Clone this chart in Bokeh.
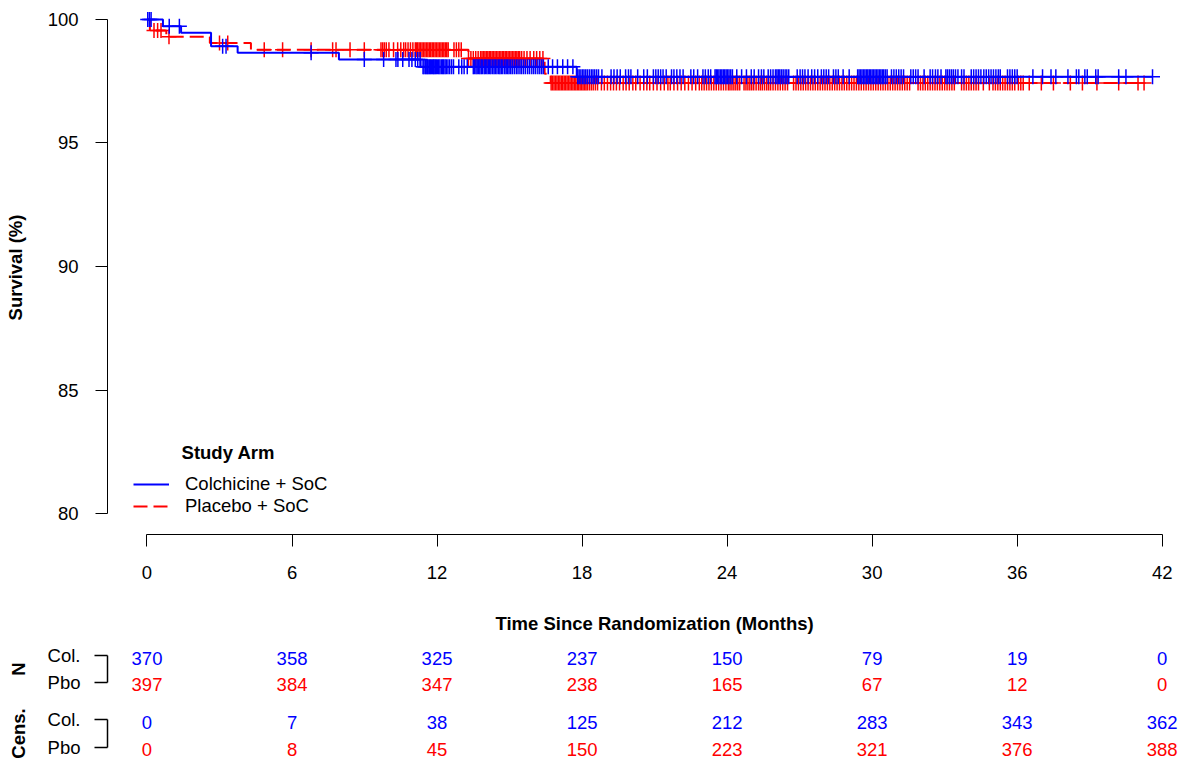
import numpy as np
from bokeh.plotting import figure
from bokeh.layouts import column
from bokeh.models import Range1d, FixedTicker, Legend, LegendItem, Label
from bokeh.embed import file_html
from bokeh.resources import INLINE
from bokeh.core.properties import value

FONT = "Liberation Sans"
FONT_V = value(FONT)
FS = "18.5px"
BLUE = "#0000FF"
RED = "#FF0000"

# ---------------- data ----------------
# Kaplan-Meier steps (time in months, survival in %)
col_time = [0, 0.66, 1.41, 2.65, 3.75, 7.94, 11.32, 17.78]
col_surv = [100, 99.73, 99.46, 98.92, 98.65, 98.38, 98.09, 97.68]
col_end = 41.60

pbo_time = [0, 0.12, 0.80, 2.60, 4.30, 13.30, 16.45, 16.70]
pbo_surv = [100, 99.55, 99.30, 99.05, 98.78, 98.42, 97.80, 97.43]
pbo_end = 41.25

# censoring times (months)
col_cens_t = [
    0.03, 0.10, 0.17, 0.92, 1.34, 3.13, 3.27,
    6.79, 8.99, 9.79, 10.30, 10.38, 10.58, 10.84, 10.96, 11.10, 11.20, 11.30,
    11.42, 11.46, 11.52, 11.55, 11.60, 11.63, 11.68, 11.72, 11.76, 11.81, 11.85, 11.88, 11.93, 11.97,
    12.02, 12.07, 12.12, 12.18, 12.23, 12.27, 12.33, 12.38, 12.45, 12.52, 12.60, 12.68,
    12.90, 13.02, 13.12, 13.25,
    13.50, 13.55, 13.61, 13.66, 13.72, 13.77, 13.83, 13.88, 13.95, 14.00, 14.06, 14.12, 14.18, 14.23,
    14.30, 14.36, 14.42, 14.48, 14.55, 14.60, 14.66, 14.72, 14.80, 14.86, 14.92, 14.98, 15.05, 15.12,
    15.20, 15.28, 15.35, 15.43, 15.50, 15.58, 15.66, 15.75, 15.83, 15.92, 16.00, 16.08, 16.17, 16.25,
    16.33, 16.40,
    16.60, 16.78, 16.98, 17.20, 17.40, 17.62,
    17.82, 17.88, 17.95, 18.02, 18.08, 18.15, 18.22, 18.30, 18.38, 18.45, 18.52, 18.60, 18.68,
    18.82, 19.20, 19.32, 19.45, 19.58, 19.80, 19.92, 20.02, 20.30, 20.55, 20.70, 20.95, 21.05, 21.15,
    21.25, 21.35, 21.48, 21.70, 21.80, 21.92, 22.05, 22.18, 22.50, 22.62, 22.78, 23.00, 23.10, 23.22,
    23.32, 23.50, 23.55, 23.60, 23.66, 23.72, 23.78, 23.84, 23.90, 23.96,
    24.02, 24.08, 24.15, 24.22, 24.40, 24.60, 24.80, 25.00, 25.12, 25.30, 25.42, 25.52, 25.70, 25.80,
    25.90, 26.00, 26.06, 26.12, 26.18, 26.25, 26.32, 26.40, 26.47, 26.55, 26.90, 27.02, 27.12, 27.22,
    27.35, 27.50, 27.62, 27.75, 27.90, 28.00, 28.10, 28.20, 28.40, 28.50, 28.60, 28.80, 29.05,
    29.40, 29.46, 29.52, 29.58, 29.64, 29.70, 29.76, 29.82, 29.88, 29.94,
    30.00, 30.06, 30.12, 30.18, 30.24, 30.30, 30.36, 30.42, 30.48, 30.55, 30.62, 30.80, 30.90, 31.00,
    31.10, 31.20, 31.30, 31.60, 31.70, 31.80, 31.90, 32.15, 32.40, 32.50, 32.62, 32.72, 32.85,
    33.05, 33.12, 33.20, 33.28, 33.36, 33.45, 33.55, 33.70, 33.80, 34.10, 34.20, 34.30, 34.40, 34.50,
    34.62, 34.72, 34.82, 34.92, 35.02, 35.12, 35.22, 35.30, 35.60, 35.70, 35.80, 35.90, 36.00,
    36.65, 37.05, 37.40, 37.60, 38.10, 38.45, 38.55, 38.80, 38.90, 39.25, 39.35, 40.20, 40.50, 41.60,
]

pbo_cens_t = [
    0.29, 0.44, 0.58, 0.91, 3.00, 3.34, 4.85, 5.61,
    6.79, 7.68, 7.82, 8.40, 8.99, 9.68, 9.75, 9.82, 9.90, 10.01, 10.20, 10.37, 10.50, 10.62, 10.70,
    10.80, 10.90, 11.00,
    11.10, 11.15, 11.20, 11.26, 11.32, 11.38, 11.44, 11.50, 11.56, 11.62, 11.68, 11.74, 11.80, 11.86,
    11.92, 11.98, 12.04, 12.10, 12.16, 12.22, 12.28, 12.34, 12.40, 12.46, 12.70, 12.80, 12.90, 13.00,
    13.30, 13.40, 13.50, 13.60, 13.70, 13.80, 13.86, 13.92, 13.98, 14.04, 14.10, 14.16, 14.22, 14.28,
    14.34, 14.40, 14.46, 14.52, 14.58, 14.64, 14.70, 14.76, 14.82, 14.88, 14.94, 15.00, 15.06, 15.12,
    15.18, 15.24, 15.30, 15.36, 15.42, 15.50, 15.60, 15.72, 15.85, 16.00, 16.12, 16.25, 16.38,
    16.72, 16.78, 16.84, 16.90, 16.96, 17.02, 17.08, 17.14, 17.20, 17.26, 17.32, 17.38, 17.44, 17.50,
    17.56, 17.62, 17.68, 17.74, 17.80, 17.86, 17.92, 17.98, 18.04, 18.10, 18.16, 18.22, 18.30, 18.38,
    18.46, 18.55, 18.64,
    18.80, 18.92, 19.05, 19.18, 19.30, 19.42, 19.55, 19.70, 19.82, 19.95, 20.10, 20.22, 20.40, 20.55,
    20.68, 20.80, 20.95, 21.10, 21.25, 21.40, 21.55, 21.65, 21.80, 21.95, 22.10, 22.25, 22.40, 22.55,
    22.70, 22.85, 22.95, 23.05, 23.15, 23.25, 23.35, 23.45, 23.55, 23.65, 23.75, 23.85, 23.95,
    24.05, 24.12, 24.20, 24.28, 24.36, 24.44, 24.52, 24.70, 24.78, 24.86, 24.94, 25.02, 25.10, 25.20,
    25.30, 25.38, 25.46, 25.55, 25.64, 25.72, 25.80, 25.90, 26.00, 26.10, 26.20, 26.30, 26.40, 26.50,
    26.75, 26.85, 26.95, 27.05, 27.15, 27.25, 27.35, 27.45, 27.55, 27.65, 27.75, 27.85, 27.95, 28.05,
    28.15, 28.25, 28.35, 28.45, 28.55, 28.65, 28.75, 28.85, 28.95, 29.05, 29.15, 29.25, 29.35, 29.45,
    29.55, 29.65, 29.75, 29.85, 29.95,
    30.05, 30.15, 30.25, 30.35, 30.45, 30.55, 30.65, 30.75, 30.85, 30.95, 31.05, 31.15, 31.25, 31.35,
    31.45, 31.55, 31.90, 32.00, 32.10, 32.20, 32.30, 32.40, 32.50, 32.60, 32.70, 32.80, 32.90, 33.00,
    33.10, 33.20, 33.30, 33.40, 33.70, 33.80, 33.90, 34.00, 34.10, 34.20, 34.30, 34.40, 34.60, 34.85,
    35.00, 35.10, 35.20, 35.30, 35.40, 35.50, 35.60, 35.70, 35.80, 35.90, 36.05, 36.15, 36.25,
    36.50, 37.00, 37.50, 38.20, 38.70, 39.30, 40.20, 41.00, 41.25,
]

# axis ticks
x_ticks = [0, 6, 12, 18, 24, 30, 36, 42]
y_ticks = [80, 85, 90, 95, 100]
x_title = "Time Since Randomization (Months)"
y_title = "Survival (%)"

# risk table
table_months = [0, 6, 12, 18, 24, 30, 36, 42]
col_n = [370, 358, 325, 237, 150, 79, 19, 0]
pbo_n = [397, 384, 347, 238, 165, 67, 12, 0]
col_cens = [0, 7, 38, 125, 212, 283, 343, 362]
pbo_cens = [0, 8, 45, 150, 223, 321, 376, 388]

arm_labels = ["Colchicine + SoC", "Placebo + SoC"]
legend_title = "Study Arm"
row_labels = {1: "Col.", 0: "Pbo"}


# ---------------- helpers ----------------
def step_xy(times, surv, end):
    return list(times) + [end], list(surv) + [surv[-1]]


def level_at(times, surv, ts):
    idx = np.searchsorted(np.asarray(times), np.asarray(ts), side="right") - 1
    return np.asarray(surv)[idx]


def style_axis(ax):
    ax.axis_line_color = "black"
    ax.axis_line_width = 1
    ax.major_tick_line_color = "black"
    ax.major_tick_line_width = 1
    ax.minor_tick_line_color = None
    ax.major_tick_in = 0
    ax.major_tick_out = 12
    ax.major_label_text_font = FONT
    ax.major_label_text_font_size = FS
    ax.major_label_text_color = "black"
    ax.axis_label_text_font = FONT
    ax.axis_label_text_font_size = FS
    ax.axis_label_text_font_style = "bold"
    ax.axis_label_text_color = "black"


# ---------------- main KM plot ----------------
x_range = Range1d(-1.634, 42.84)
p = figure(width=1182, height=600, x_range=x_range, y_range=Range1d(79.15, 100.769),
           output_backend="svg", toolbar_location=None,
           min_border_left=107, min_border_right=0, min_border_top=0, min_border_bottom=66)
p.grid.visible = False
p.outline_line_color = None

style_axis(p.xaxis[0])
p.xaxis.ticker = FixedTicker(ticks=x_ticks)
p.xaxis.bounds = (x_ticks[0], x_ticks[-1])
p.xaxis.major_label_standoff = 19

style_axis(p.yaxis[0])
p.yaxis.ticker = FixedTicker(ticks=y_ticks)
p.yaxis.bounds = (y_ticks[0], y_ticks[-1])
p.yaxis.major_label_standoff = 17
p.yaxis.axis_label = y_title
p.yaxis.axis_label_standoff = 19

px, py = step_xy(pbo_time, pbo_surv, pbo_end)
cx, cy = step_xy(col_time, col_surv, col_end)

r_pbo = p.step(px, py, mode="after", line_color=RED, line_width=2, line_dash="14 6")
p.scatter(pbo_cens_t, level_at(pbo_time, pbo_surv, pbo_cens_t), marker="cross", size=15,
          line_color=RED, line_width=1.5)
r_col = p.step(cx, cy, mode="after", line_color=BLUE, line_width=2)
p.scatter(col_cens_t, level_at(col_time, col_surv, col_cens_t), marker="cross", size=15,
          line_color=BLUE, line_width=1.5)

legend = Legend(items=[LegendItem(label=arm_labels[0], renderers=[r_col]),
                       LegendItem(label=arm_labels[1], renderers=[r_pbo])],
                location=(26, 17), padding=0, margin=0, spacing=0,
                glyph_width=36, glyph_height=20, label_height=20, label_standoff=16,
                border_line_color=None, background_fill_alpha=0,
                label_text_font=FONT, label_text_font_size=FS, label_text_color="black")
p.add_layout(legend)
p.add_layout(Label(x=1.43, y=82.45, text=legend_title, text_font=FONT, text_font_size=FS,
                   text_font_style="bold", text_color="black",
                   text_baseline="middle", text_align="left"))

# ---------------- x-axis title strip (centred on the tick span, as in the original) ----------------
ts = figure(width=1182, height=40, x_range=x_range, y_range=Range1d(0, 1),
            output_backend="svg", toolbar_location=None,
            x_axis_location=None, y_axis_location=None,
            min_border_left=107, min_border_right=0, min_border_top=0, min_border_bottom=0)
ts.grid.visible = False
ts.outline_line_color = None
ts.text([(x_ticks[0] + x_ticks[-1]) / 2], [0.425], text=[x_title], text_font=FONT_V,
        text_font_size=FS, text_font_style="bold", text_color="black",
        text_align="center", text_baseline="middle")


# ---------------- risk tables ----------------
def table_fig(height, top, y_start, y_end, title, col_vals, pbo_vals, y_off):
    t = figure(width=1182, height=height, x_range=x_range, y_range=Range1d(y_start, y_end),
               output_backend="svg", toolbar_location=None, x_axis_location=None,
               min_border_left=107, min_border_right=0, min_border_top=top, min_border_bottom=0)
    t.grid.visible = False
    t.outline_line_color = None
    ax = t.yaxis[0]
    style_axis(ax)
    ax.ticker = FixedTicker(ticks=[0, 1])
    ax.bounds = (0, 1)
    ax.major_label_overrides = row_labels
    ax.major_tick_out = 13
    ax.axis_line_width = 1.5
    ax.major_tick_line_width = 1.5
    ax.major_label_standoff = 14
    ax.axis_label = title
    ax.axis_label_standoff = 16
    t.text(table_months, [1] * len(table_months), text=[str(v) for v in col_vals],
           text_color=BLUE, text_font=FONT_V, text_font_size=FS,
           text_align="center", text_baseline="middle", y_offset=y_off)
    t.text(table_months, [0] * len(table_months), text=[str(v) for v in pbo_vals],
           text_color=RED, text_font=FONT_V, text_font_size=FS,
           text_align="center", text_baseline="middle", y_offset=y_off)
    return t


t_n = table_fig(57, 0, -0.556, 1.556, "N", col_n, pbo_n, 2.5)
t_c = table_fig(63, 9, -0.485, 1.485, "Cens.", col_cens, pbo_cens, 2.5)

layout = column(p, ts, t_n, t_c, spacing=0)
open("out.html", "w").write(file_html(layout, INLINE))
